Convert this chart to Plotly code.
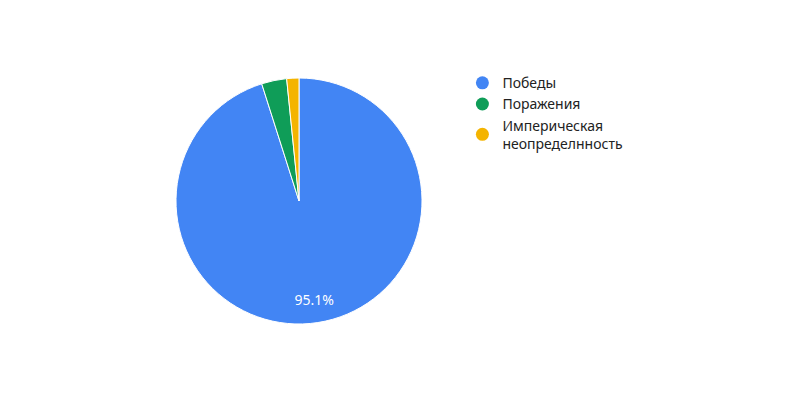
import plotly.graph_objects as go

labels = ["Победы", "Поражения", "Империческая<br>неопределнность"]
values = [95.1, 3.3, 1.6]
colors = ["#4285f4", "#0f9d58", "#f4b400"]
texts = ["%{percent:.1%}", "", ""]

dom = dict(x=[168/800, 414/800], y=[1-316/400, 1-70/400])

fig = go.Figure()
fig.add_trace(go.Pie(
    labels=labels, values=values, sort=False, direction="clockwise", rotation=0,
    marker=dict(colors=colors, line=dict(color="white", width=1)),
    textinfo="none", hoverinfo="label+percent", showlegend=False, domain=dom,
))
# transparent ring carrying the percentage label further out, like the reference
fig.add_trace(go.Pie(
    labels=labels, values=values, sort=False, direction="clockwise", rotation=0,
    hole=0.62,
    marker=dict(colors=["rgba(0,0,0,0)"] * len(values), line=dict(width=0)),
    texttemplate=texts, textposition="inside", insidetextorientation="horizontal",
    textfont=dict(color="white", size=14, family="Noto Sans"),
    hoverinfo="skip", showlegend=False, domain=dom,
))
for lab, col in zip(labels, colors):
    fig.add_trace(go.Scatter(
        x=[None], y=[None], mode="markers", name=lab,
        marker=dict(symbol="circle", size=13, color=col),
    ))

fig.update_layout(
    width=800, height=400, margin=dict(l=0, r=0, t=0, b=0),
    paper_bgcolor="white", plot_bgcolor="white",
    font=dict(family="Noto Sans", size=14, color="#222222"),
    xaxis=dict(visible=False), yaxis=dict(visible=False),
    legend=dict(x=0.568, y=0.852, xanchor="left", yanchor="top",
                itemwidth=30, tracegroupgap=0, font=dict(size=14, color="#222222")),
)
fig.write_html("out.html")
